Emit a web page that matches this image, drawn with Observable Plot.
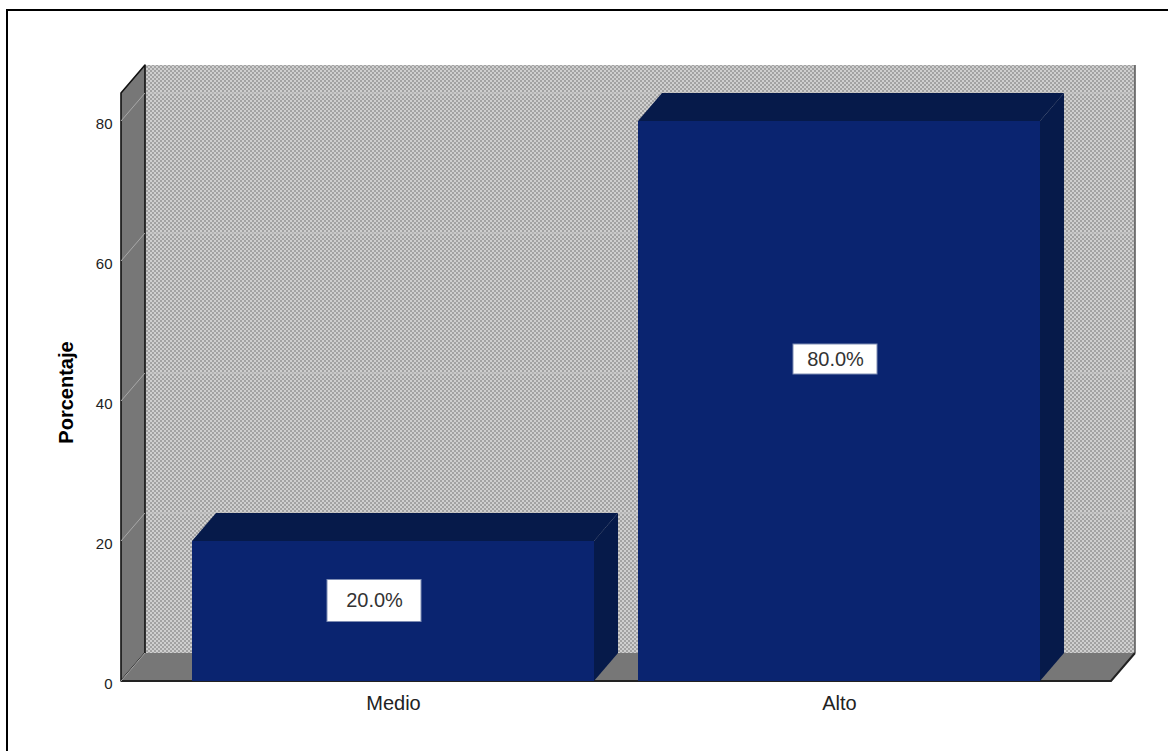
<!DOCTYPE html>
<html><head><meta charset="utf-8">
<script src="https://cdn.jsdelivr.net/npm/d3@7"></script>
<script src="https://cdn.jsdelivr.net/npm/@observablehq/plot@0.6"></script>
<style>
body{margin:0;background:#fff;}
#wrap{position:relative;width:1168px;height:751px;overflow:hidden;}
#chart{position:absolute;left:0;top:0;}
#frame{position:absolute;left:6px;top:9px;width:1200px;height:800px;border-left:2px solid #000;border-top:2px solid #000;pointer-events:none;}
</style></head><body><div id="wrap"><div id="chart"></div><div id="frame"></div></div>
<script>
// ---- data ----
const categories = ["Medio", "Alto"];
const percentages = [20, 80];
const valueLabels = ["20.0%", "80.0%"];
const yTicks = [0, 20, 40, 60, 80];
const yTitle = "Porcentaje";
const yMax = 84;

// ---- styling ----
const DX = 24, DY = -28;            // 3D depth offset (px)
const frontColor = "#0a2470";
const darkColor = "#061a4a";
const wallColor = "#777777";
const labelDx = [-19, -4];
const labelBox = [[94, 42], [84, 30]];

const data = categories.map((c, i) => ({category: c, value: percentages[i], label: valueLabels[i], i}));
const svgNS = "http://www.w3.org/2000/svg";
function el(tag, attrs, parent) {
  const e = document.createElementNS(svgNS, tag);
  for (const k in attrs) e.setAttribute(k, attrs[k]);
  if (parent) parent.appendChild(e);
  return e;
}
function bw(scales) {
  const sx = scales.x;
  if (typeof sx.bandwidth === "function") return sx.bandwidth();
  if (scales.scales && scales.scales.x) return scales.scales.x.bandwidth;
  return 0;
}
const P = a => a.map(p => p.join(",")).join(" ");

function scene(index, scales, values, dimensions) {
  const {width, marginLeft, marginRight} = dimensions;
  const x0 = marginLeft, x1 = width - marginRight;
  const y = scales.y;
  const yb = y(0), yt = y(yMax);
  const g = el("g", {"aria-label": "3d-scene"});
  const defs = el("defs", {}, g);
  const pat = el("pattern", {id: "chk", width: 4, height: 4, patternUnits: "userSpaceOnUse"}, defs);
  el("rect", {width: 4, height: 4, fill: "#cfcfcf"}, pat);
  el("rect", {x: 0, y: 0, width: 2, height: 2, fill: "#a2a2a2"}, pat);
  el("rect", {x: 2, y: 2, width: 2, height: 2, fill: "#a2a2a2"}, pat);
  // back wall
  el("rect", {x: x0 + DX, y: yt + DY, width: x1 - x0, height: yb - yt, fill: "url(#chk)"}, g);
  for (const t of yTicks) if (t > 0)
    el("line", {x1: x0 + DX, x2: x1 + DX, y1: y(t) + DY, y2: y(t) + DY, stroke: "#c6c6c6", "stroke-width": 1}, g);
  el("line", {x1: x1 + DX, x2: x1 + DX, y1: yt + DY, y2: yb + DY, stroke: "#555", "stroke-width": 1.5}, g);
  // side wall
  el("polygon", {points: P([[x0, yb], [x0, yt], [x0 + DX, yt + DY], [x0 + DX, yb + DY]]), fill: wallColor, stroke: "#111", "stroke-width": 1.6, "stroke-linejoin": "round"}, g);
  // floor
  el("polygon", {points: P([[x0, yb], [x0 + DX, yb + DY], [x1 + DX, yb + DY], [x1, yb]]), fill: wallColor}, g);
  el("polyline", {points: P([[x0, yb], [x1, yb], [x1 + DX, yb + DY]]), fill: "none", stroke: "#222", "stroke-width": 2}, g);
  for (const t of yTicks)
    el("line", {x1: x0, x2: x0 + DX, y1: y(t), y2: y(t) + DY, stroke: "#a8a8a8", "stroke-width": 1}, g);
  // bar tops and sides
  const w = bw(scales);
  for (const d of data) {
    const bx = scales.x(d.category), yv = y(d.value);
    el("polygon", {points: P([[bx, yv], [bx + DX, yv + DY], [bx + w + DX, yv + DY], [bx + w, yv]]), fill: darkColor}, g);
    el("polygon", {points: P([[bx + w, yv], [bx + w + DX, yv + DY], [bx + w + DX, yb + DY], [bx + w, yb]]), fill: darkColor}, g);
  }
  return g;
}

function boxes(index, scales) {
  const g = el("g", {"aria-label": "label-boxes"});
  const w = bw(scales);
  for (const d of data) {
    const cx = scales.x(d.category) + w / 2 + labelDx[d.i];
    const cy = scales.y(d.value * 0.575);
    const [bwid, bh] = labelBox[d.i];
    el("rect", {x: cx - bwid / 2, y: cy - bh / 2, width: bwid, height: bh, fill: "#fff", stroke: "#7f8db3", "stroke-width": 1}, g);
  }
  return g;
}

const chart = Plot.plot({
  width: 1168,
  height: 751,
  marginLeft: 121,
  marginRight: 57,
  marginTop: 93,
  marginBottom: 70,
  style: {fontFamily: "'Liberation Sans', Arial, sans-serif", background: "transparent"},
  x: {domain: categories, paddingInner: 0.0987, paddingOuter: 0.159},
  y: {domain: [0, yMax]},
  marks: [
    scene,
    Plot.barY(data, {x: "category", y: "value", fill: frontColor}),
    boxes,
    ...data.map((d, i) => Plot.text([d], {x: "category", y: v => v.value * 0.575, text: "label", dx: labelDx[i], fontSize: 20, fill: "#333"})),
    Plot.axisY({ticks: yTicks, tickSize: 0, tickPadding: 9, fontSize: 15, label: null, fill: "#222", dy: 3}),
    Plot.axisX({tickSize: 0, tickPadding: 14, fontSize: 20, label: null, fill: "#222"}),
    Plot.text([yTitle], {frameAnchor: "left", text: d => d, rotate: -90, dx: -55, dy: 5, textAnchor: "middle", fontSize: 20, fontWeight: "bold", fill: "#000", lineAnchor: "middle"})
  ]
});
document.getElementById("chart").appendChild(chart);
</script>
</body></html>
